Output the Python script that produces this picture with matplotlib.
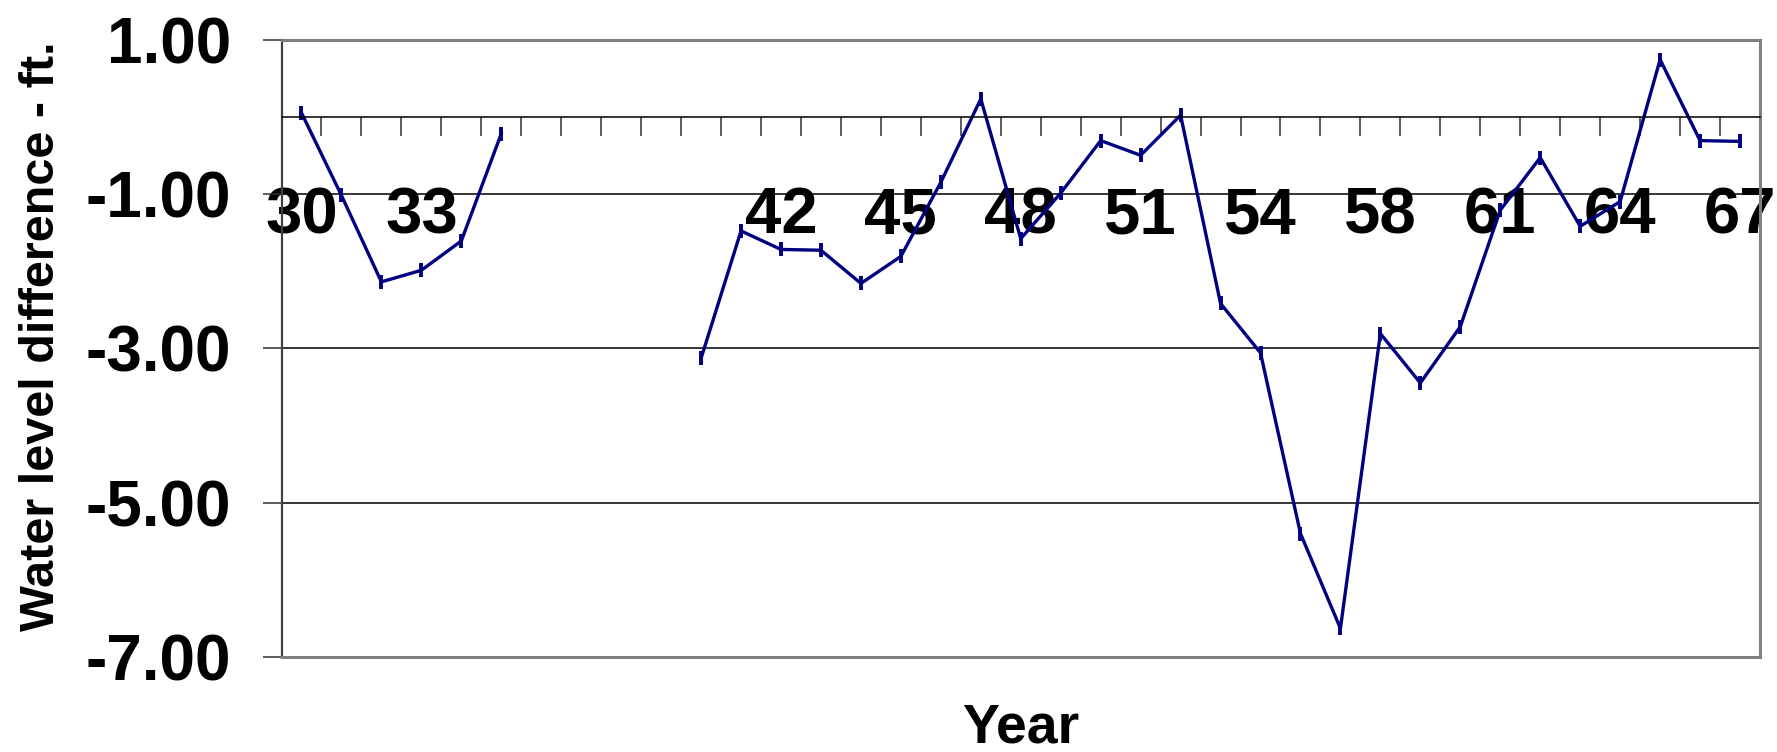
import matplotlib
matplotlib.use('Agg')
import matplotlib.pyplot as plt
from matplotlib.ticker import FixedLocator, FormatStrFormatter
import numpy as np

plt.rcParams['font.family'] = ['Liberation Sans', 'DejaVu Sans']
plt.rcParams['font.weight'] = 'bold'
plt.rcParams['axes.unicode_minus'] = False

# category years (1955 is not in the record), values in ft
years = [30, 31, 32, 33, 34, 35, 36, 37, 38, 39,
         40, 41, 42, 43, 44, 45, 46, 47, 48, 49,
         50, 51, 52, 53, 54, 56, 57, 58, 59, 60,
         61, 62, 63, 64, 65, 66, 67]
diff = [0.05, -1.02, -2.14, -1.99, -1.61, -0.22, np.nan, np.nan, np.nan, np.nan,
        -3.13, -1.48, -1.72, -1.73, -2.16, -1.81, -0.85, 0.23, -1.58, -0.99,
        -0.31, -0.50, 0.02, -2.42, -3.06, -5.40, -6.63, -2.81, -3.45, -2.72,
        -1.21, -0.53, -1.42, -1.10, 0.74, -0.31, -0.32]
yticks = [1, -1, -3, -5, -7]

x = np.arange(len(years))
cat_labels = ['' if np.isnan(v) else str(y) for y, v in zip(years, diff)]

fig = plt.figure(figsize=(17.77, 7.52), dpi=100)
ax = fig.add_axes([281.5 / 1777, 95 / 752, (1760 - 281.5) / 1777, (657 - 39.5) / 752])

ax.plot(x, diff, color='#000080', lw=2.4, marker='|', ms=10, mew=2.8)

ax.set_xlim(-0.5, len(years) - 0.5)
ax.set_ylim(-7, 1)

# y axis
ax.set_yticks(yticks)
ax.yaxis.set_major_formatter(FormatStrFormatter('%.2f'))
ax.tick_params(axis='y', direction='out', length=14, width=1.1, color='#303030',
               pad=22, labelsize=46)
ax.grid(axis='y', color='black', lw=1.1)

# category axis sits at zero
ax.spines['bottom'].set_position(('data', 0))
ax.spines['bottom'].set_color('black')
ax.spines['bottom'].set_linewidth(1.1)
ax.xaxis.set_major_locator(FixedLocator(np.arange(len(years) + 1) - 0.5))
ax.xaxis.set_major_formatter(plt.NullFormatter())
ax.xaxis.set_minor_locator(FixedLocator(x[::3]))
ax.set_xticklabels([cat_labels[i] for i in x[::3]], minor=True)
ax.tick_params(axis='x', which='major', direction='out', length=14, width=1.1,
               color='#303030')
ax.tick_params(axis='x', which='minor', length=0, pad=50, labelsize=47)

# frame
ax.axhline(-7, color='#808080', lw=2.2, clip_on=False, zorder=3)
ax.spines['left'].set_color('#404040')
ax.spines['left'].set_linewidth(1.6)
for s in ['top', 'right']:
    ax.spines[s].set_color('#808080')
    ax.spines[s].set_linewidth(2.2)

ax.set_xlabel('Year', fontsize=40, fontweight='bold')
ax.xaxis.set_label_coords(0.5, -0.074)
ax.set_ylabel('Water level difference - ft.', fontsize=35, fontweight='bold')
ax.yaxis.set_label_coords(-0.147, 0.52)

fig.savefig('out.png', dpi=100)
